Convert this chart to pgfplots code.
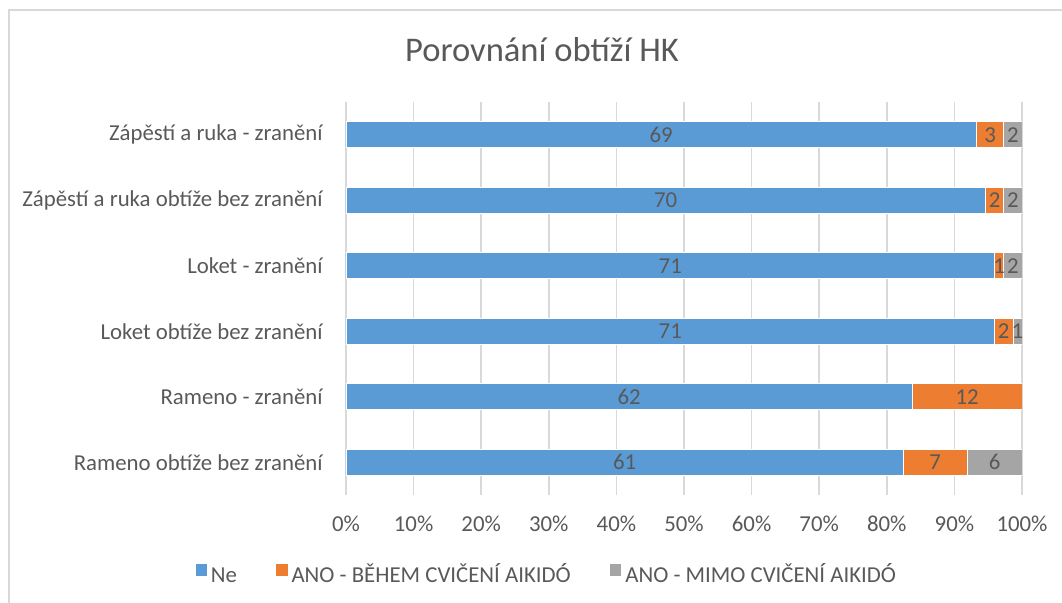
\documentclass[border=0pt]{standalone}
\usepackage{fontspec}
\setmainfont{Carlito}
\usepackage{pgfplots}
\pgfplotsset{compat=1.18}
\definecolor{cblue}{HTML}{5B9BD5}
\definecolor{corange}{HTML}{ED7D31}
\definecolor{cgray}{HTML}{A5A5A5}
\definecolor{ctext}{HTML}{595959}
\definecolor{cgrid}{HTML}{D9D9D9}
\newcommand{\lblfont}{\fontsize{11.4}{13.7}\selectfont}
\begin{document}
\begin{tikzpicture}
\path[use as bounding box] (0,0) rectangle (531pt,301.5pt);
\draw[cgrid, line width=0.75pt] (4.5pt,0) -- (4.5pt,296.5pt) -- (531pt,296.5pt);
\node[anchor=base, text=ctext, font=\fontsize{17.3}{20}\selectfont, inner sep=0pt] at (271pt,270.5pt) {Porovnání obtíží HK};
\begin{axis}[
  at={(173pt,54pt)}, anchor=south west,
  scale only axis, width=338pt, height=196.5pt,
  xbar stacked, bar width=13pt,
  xmin=0, xmax=74, ymin=-0.5, ymax=5.5,
  xtick={0,7.4,14.8,22.2,29.6,37,44.4,51.8,59.2,66.6,74},
  xticklabels={0\%,10\%,20\%,30\%,40\%,50\%,60\%,70\%,80\%,90\%,100\%},
  ytick={0,1,2,3,4,5},
  yticklabels={Rameno obtíže bez zranění, Rameno - zranění, Loket obtíže bez zranění, Loket - zranění, Zápěstí a ruka obtíže bez zranění, Zápěstí a ruka - zranění},
  axis line style={draw=none},
  major tick length=0pt,
  xmajorgrids, ymajorgrids=false,
  major grid style={cgrid, line width=0.75pt},
  ticklabel style={text=ctext, font=\lblfont},
  xticklabel style={anchor=base, inner sep=0pt, yshift=-18.5pt},
  yticklabel style={anchor=east, inner sep=0pt, xshift=-11.5pt},
  legend columns=3,
  legend style={at={(0.2986,-0.2036)}, anchor=center, draw=none, fill=none, font=\lblfont, text=ctext,
    nodes={text height=8pt, text depth=1pt},
    /tikz/every even column/.append style={column sep=17.7pt},
    /tikz/every odd column/.append style={column sep=0pt}},
  legend image code/.code={\path[#1, draw=none] (0pt,-0.3pt) rectangle (5.6pt,5.3pt);},
]
\addplot[fill=cblue, draw=white, line width=0.3pt] coordinates {(61,0) (62,1) (71,2) (71,3) (70,4) (69,5)};
\addplot[fill=corange, draw=white, line width=0.3pt] coordinates {(7,0) (12,1) (2,2) (1,3) (2,4) (3,5)};
\addplot[fill=cgray, draw=white, line width=0.3pt] coordinates {(6,0) (0,1) (1,2) (2,3) (2,4) (2,5)};
\legend{Ne, ANO - BĚHEM CVIČENÍ AIKIDÓ, ANO - MIMO CVIČENÍ AIKIDÓ}
\end{axis}
\begin{axis}[
  at={(173pt,54pt)}, anchor=south west,
  scale only axis, width=338pt, height=196.5pt,
  xmin=0, xmax=74, ymin=-0.5, ymax=5.5,
  hide axis,
]
\addplot[draw=none, mark=none, nodes near coords, point meta=explicit symbolic,
  every node near coord/.append style={anchor=center, inner sep=0pt, text=ctext, font=\lblfont}]
  coordinates {
  (30.5,0) [61] (64.5,0) [7] (71,0) [6]
  (31,1) [62] (68,1) [12]
  (35.5,2) [71] (72,2) [2] (73.5,2) [1]
  (35.5,3) [71] (71.5,3) [1] (73,3) [2]
  (35,4) [70] (71,4) [2] (73,4) [2]
  (34.5,5) [69] (70.5,5) [3] (73,5) [2]
  };
\end{axis}
\end{tikzpicture}
\end{document}
